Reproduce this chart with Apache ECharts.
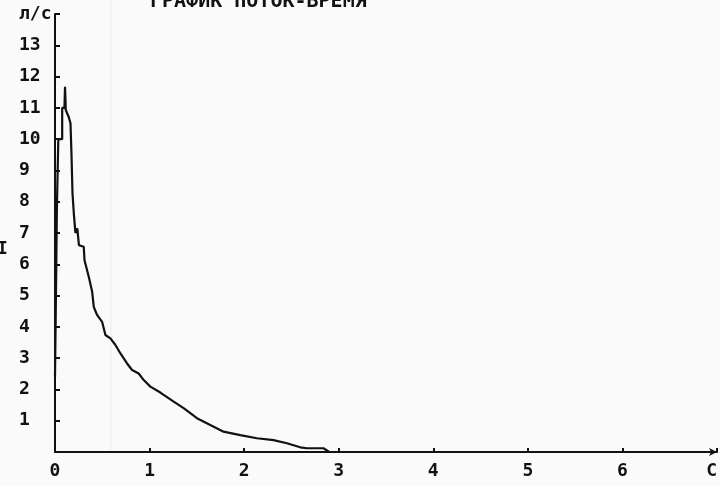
<!DOCTYPE html>
<html>
<head>
<meta charset="utf-8">
<script src="https://cdn.jsdelivr.net/npm/echarts@6/dist/echarts.min.js"></script>
<style>
  html, body { margin: 0; padding: 0; background: #fafafa; }
  #chart { width: 720px; height: 486px; }
</style>
</head>
<body>
<div id="chart"></div>
<script>
// время, с
const timeS = [0, 0.01, 0.02, 0.035, 0.076, 0.076, 0.1, 0.106, 0.114, 0.146, 0.164, 0.174, 0.185,
  0.199, 0.216, 0.236, 0.253, 0.253, 0.304, 0.312, 0.357, 0.393, 0.41, 0.445, 0.498, 0.533,
  0.586, 0.639, 0.692, 0.762, 0.815, 0.885, 0.938, 1.008, 1.114, 1.255, 1.36, 1.501, 1.642,
  1.782, 1.959, 2.135, 2.311, 2.452, 2.593, 2.663, 2.839, 2.9]
// поток, л/с
const flowLs = [2.4, 5.0, 7.8, 10.0, 10.0, 11.0, 11.0, 11.67, 10.93, 10.7, 10.5, 9.55, 8.27,
  7.63, 7.0, 7.15, 7.15, 6.61, 6.56, 6.13, 5.6, 5.12, 4.64, 4.38, 4.16, 3.74,
  3.63, 3.42, 3.15, 2.83, 2.62, 2.51, 2.3, 2.09, 1.9, 1.61, 1.4, 1.08, 0.86,
  0.65, 0.54, 0.44, 0.38, 0.28, 0.15, 0.12, 0.12, 0]

const xUnit = 'С'
const yUnit = 'л/с'
const titleText = 'ГРАФИК ПОТОК-ВРЕМЯ'

const font = 'DejaVu Sans Mono'
let myChart = echarts.init(document.getElementById('chart'))

const option = {
  backgroundColor: '#fafafa',
  animation: false,
  title: {
    text: titleText,
    left: 145,
    top: -13,
    textStyle: { fontFamily: font, fontSize: 20, fontWeight: 'bold', color: '#111' }
  },
  graphic: [
    // бледная полоса скана
    { type: 'rect', shape: { x: 110, y: 0, width: 2, height: 450 }, style: { fill: '#f3f3f3' }, z: -1 },
    { type: 'text', left: -3, top: 240,
      style: { text: 'I', font: 'bold 18px "DejaVu Sans Mono"', fill: '#111' } }
  ],
  grid: { left: 55, right: 3, top: 14, bottom: 34 },
  xAxis: {
    type: 'value',
    min: 0, max: 7, interval: 1,
    splitLine: { show: false },
    axisLine: { lineStyle: { color: '#111', width: 2 }, symbol: ['none', 'arrow'], symbolSize: [6, 8] },
    axisTick: { inside: true, length: 4, lineStyle: { color: '#111', width: 2 } },
    axisLabel: {
      margin: 10,
      color: '#111',
      fontFamily: font, fontSize: 18, fontWeight: 'bold',
      alignMaxLabel: 'right',
      formatter: v => v === 7 ? xUnit : String(v)
    }
  },
  yAxis: {
    type: 'value',
    min: 0, max: 14, interval: 1,
    splitLine: { show: false },
    axisLine: { show: true, lineStyle: { color: '#111', width: 2 } },
    axisTick: { show: true, inside: true, length: 5, lineStyle: { color: '#111', width: 2 } },
    axisLabel: {
      align: 'left',
      margin: 36,
      color: '#111',
      fontFamily: font, fontSize: 18, fontWeight: 'bold',
      formatter: v => v === 0 ? '' : (v === 14 ? yUnit : String(v))
    }
  },
  series: [{
    type: 'line',
    data: timeS.map((t, i) => [t, flowLs[i]]),
    symbol: 'none',
    lineStyle: { color: '#111', width: 2.2 }
  }]
}
myChart.setOption(option)
</script>
</body>
</html>
